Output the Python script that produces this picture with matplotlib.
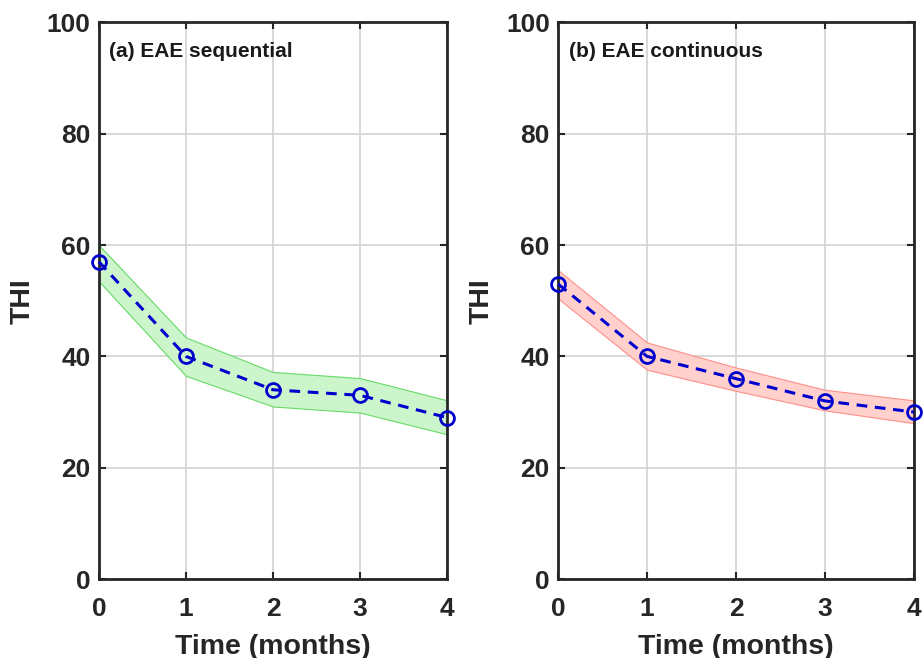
import matplotlib.pyplot as plt
import numpy as np

plt.rcParams['font.family'] = ['Liberation Sans', 'DejaVu Sans']
plt.rcParams['font.weight'] = 'bold'

time_months = [0, 1, 2, 3, 4]

# (a) EAE sequential
seq_mean = [57, 40, 34, 33, 29]
seq_upper = [60, 43.4, 37.2, 36.1, 32.1]
seq_lower = [53.5, 36.5, 31, 29.9, 26]

# (b) EAE continuous
cont_mean = [53, 40, 36, 32, 30]
cont_upper = [55.5, 42.5, 38, 34, 32.1]
cont_lower = [50.4, 37.6, 33.8, 30.3, 28]

panels = [
    ("(a) EAE sequential", seq_mean, seq_upper, seq_lower, '#ccf5cc', '#66d966'),
    ("(b) EAE continuous", cont_mean, cont_upper, cont_lower, '#ffd0cc', '#ff8f88'),
]
positions = [[0.107, 0.12, 0.377, 0.846], [0.604, 0.12, 0.385, 0.846]]

fig = plt.figure(figsize=(9.24, 6.58), dpi=100)

for (title, mean, upper, lower, fill, edge), pos in zip(panels, positions):
    ax = fig.add_axes(pos)
    ax.fill_between(time_months, lower, upper, facecolor=fill, edgecolor=edge,
                    linewidth=0.8, zorder=2)
    ax.plot(time_months, mean, '--o', color='#0000cc', linewidth=2.2,
            dashes=(3.5, 2.5), markersize=10, markerfacecolor='none',
            markeredgewidth=2, zorder=3, clip_on=False)
    ax.set_xlim(0, 4)
    ax.set_ylim(0, 100)
    ax.set_xticks(time_months)
    ax.set_yticks(np.arange(0, 101, 20))
    ax.grid(True, color='#d2d2d2', linewidth=1.2, zorder=0)
    ax.set_axisbelow(True)
    ax.tick_params(direction='in', length=5, width=1.5, labelsize=19,
                   top=True, right=True, colors='#262626')
    ax.tick_params(axis='x', pad=13)
    ax.tick_params(axis='y', pad=6)
    for s in ax.spines.values():
        s.set_linewidth(2)
        s.set_color('#262626')
    ax.set_xlabel('Time (months)', fontsize=20.5, fontweight='bold', color='#262626', labelpad=9)
    ax.set_ylabel('THI', fontsize=20.5, fontweight='bold', color='#262626', labelpad=8)
    ax.text(0.03, 0.965, title, transform=ax.transAxes, fontsize=15,
            fontweight='bold', va='top', ha='left', color='#1a1a1a')

fig.savefig('out.png', dpi=100)
